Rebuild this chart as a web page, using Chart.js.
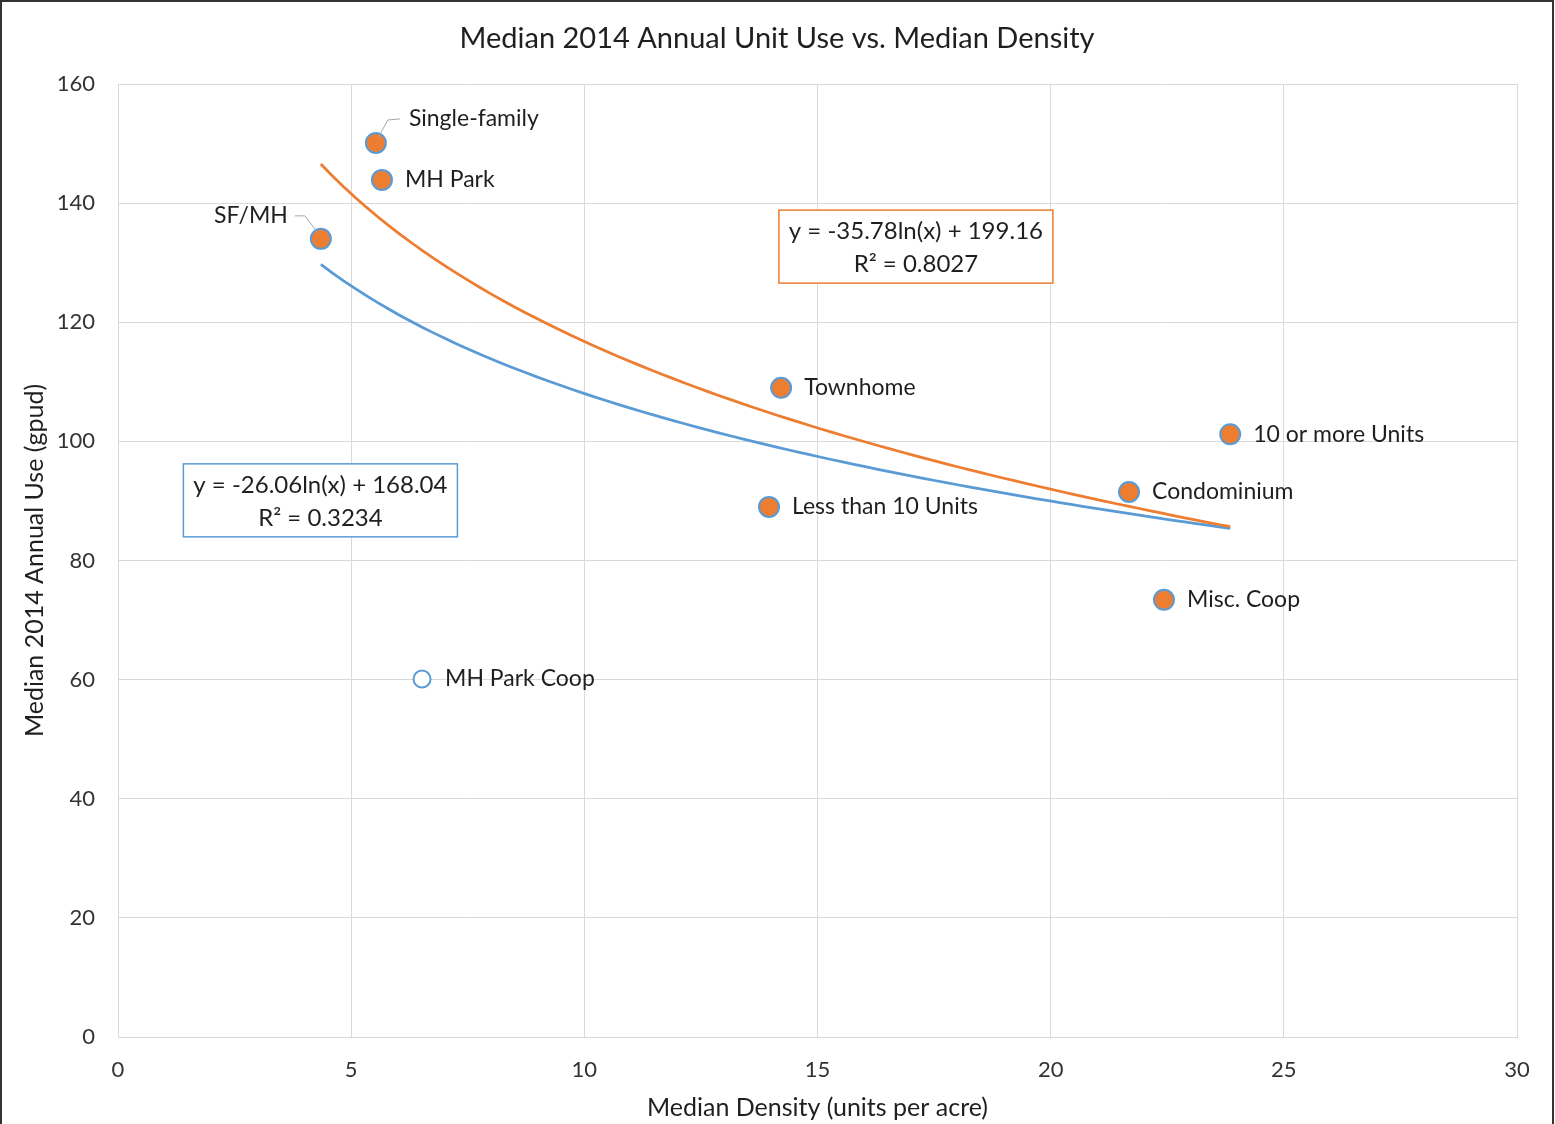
<!DOCTYPE html>
<html>
<head>
<meta charset="utf-8">
<script src="https://cdn.jsdelivr.net/npm/chart.js@4.4.0/dist/chart.umd.min.js"></script>
<style>
  html, body { margin: 0; padding: 0; background: #fff; }
  #wrap { width: 1555px; height: 1124px; position: relative; }
</style>
</head>
<body>
<div id="wrap"><canvas id="chart"></canvas></div>
<script>
// Building types with median density (units per acre) and median 2014 use (gpud)
var categories = ['Single-family', 'MH Park', 'SF/MH', 'Townhome', '10 or more Units', 'Condominium', 'Less than 10 Units', 'Misc. Coop'];
var density = [5.53, 5.66, 4.35, 14.22, 23.85, 21.68, 13.96, 22.43];
var unitUse = [150.1, 143.9, 134.0, 109.0, 101.2, 91.5, 89.0, 73.4];

// the outlier, drawn hollow
var outlierName = ['MH Park Coop'];
var outlierDensity = [6.52];
var outlierUse = [60.1];

// log trendlines as shown on the chart: y = a*ln(x) + b
var orangeFit = [-35.78, 199.16];
var orangeR2 = ['0.8027'];
var blueFit = [-26.06, 168.04];
var blueR2 = ['0.3234'];

var xTicks = [0, 5, 10, 15, 20, 25, 30];
var yTicks = [0, 20, 40, 60, 80, 100, 120, 140, 160];

var FONT = 'Lato, "Open Sans", sans-serif';
var ORANGE = '#ED7D31';
var BLUE = '#5B9BD5';
var TEXT = '#1f1f1f';

function toPoints(xs, ys) {
  var pts = [];
  for (var i = 0; i < xs.length; i++) pts.push({ x: xs[i], y: ys[i] });
  return pts;
}

// trendline over the range of the data
function trend(fit) {
  var all = density.concat(outlierDensity);
  var lo = Math.min.apply(null, all), hi = Math.max.apply(null, all);
  var pts = [];
  for (var i = 0; i <= 80; i++) {
    var x = lo + (hi - lo) * i / 80;
    pts.push({ x: x, y: fit[0] * Math.log(x) + fit[1] });
  }
  return pts;
}

function fmtFit(fit) {
  return 'y = ' + fit[0].toFixed(2) + 'ln(x) + ' + fit[1].toFixed(2);
}

// labels next to the points, with leader lines for two of them
var labelPlugin = {
  id: 'labels',
  afterDatasetsDraw: function(chart) {
    var ctx = chart.ctx;
    ctx.save();
    ctx.font = '23px ' + FONT;
    ctx.fillStyle = TEXT;
    ctx.textBaseline = 'middle';

    var meta = chart.getDatasetMeta(0);
    meta.data.forEach(function(pt, i) {
      var name = categories[i];
      if (name === 'Single-family') {
        ctx.strokeStyle = '#a6a6a6';
        ctx.lineWidth = 1;
        ctx.beginPath();
        ctx.moveTo(pt.x + 2, pt.y - 5);
        ctx.lineTo(pt.x + 12, pt.y - 23);
        ctx.lineTo(pt.x + 24, pt.y - 24);
        ctx.stroke();
        ctx.textAlign = 'left';
        ctx.fillText(name, pt.x + 33, pt.y - 24);
      } else if (name === 'SF/MH') {
        ctx.strokeStyle = '#a6a6a6';
        ctx.lineWidth = 1;
        ctx.beginPath();
        ctx.moveTo(pt.x - 3, pt.y - 6);
        ctx.lineTo(pt.x - 16, pt.y - 23);
        ctx.lineTo(pt.x - 26, pt.y - 23);
        ctx.stroke();
        ctx.textAlign = 'right';
        ctx.fillText(name, pt.x - 33, pt.y - 23);
      } else {
        ctx.textAlign = 'left';
        ctx.fillText(name, pt.x + 23, pt.y);
      }
    });

    var meta2 = chart.getDatasetMeta(1);
    meta2.data.forEach(function(pt, i) {
      ctx.textAlign = 'left';
      ctx.fillText(outlierName[i], pt.x + 23, pt.y);
    });
    ctx.restore();
  },
  afterDraw: function(chart) {
    var ctx = chart.ctx;
    var xs = chart.scales.x, ys = chart.scales.y;
    ctx.save();

    // equation boxes
    function box(cx, cy, color, fit, r2) {
      var px = xs.getPixelForValue(cx), py = ys.getPixelForValue(cy);
      var w = 274, h = 73;
      ctx.fillStyle = '#fff';
      ctx.fillRect(px - w / 2, py - h / 2, w, h);
      ctx.strokeStyle = color;
      ctx.lineWidth = 1.5;
      ctx.strokeRect(px - w / 2, py - h / 2, w, h);
      ctx.fillStyle = TEXT;
      ctx.font = '24px ' + FONT;
      ctx.textAlign = 'center';
      ctx.textBaseline = 'middle';
      ctx.fillText(fmtFit(fit), px, py - 15);
      ctx.fillText('R\u00B2 = ' + r2, px, py + 18);
    }
    box(17.11, 132.7, ORANGE, orangeFit, orangeR2[0]);
    box(4.34, 90.1, BLUE, blueFit, blueR2[0]);

    // chart title
    ctx.fillStyle = TEXT;
    ctx.font = '29px ' + FONT;
    ctx.textAlign = 'center';
    ctx.textBaseline = 'middle';
    ctx.fillText('Median 2014 Annual Unit Use vs. Median Density', 777, 39);

    // outer frame
    ctx.strokeStyle = '#333';
    ctx.lineWidth = 2;
    ctx.beginPath();
    ctx.moveTo(1, chart.height);
    ctx.lineTo(1, 1);
    ctx.lineTo(1553, 1);
    ctx.lineTo(1553, chart.height);
    ctx.stroke();
    ctx.restore();
  }
};

var ctx = document.getElementById('chart');
var myChart = new Chart(ctx, {
  type: 'scatter',
  data: {
    datasets: [{
      label: 'Building types',
      data: toPoints(density, unitUse),
      backgroundColor: ORANGE,
      borderColor: BLUE,
      borderWidth: 2,
      pointRadius: 10,
      order: 0
    }, {
      label: 'MH Park Coop',
      data: toPoints(outlierDensity, outlierUse),
      backgroundColor: '#fff',
      borderColor: BLUE,
      borderWidth: 2,
      pointRadius: 8.5,
      order: 0
    }, {
      label: 'Log trend (excl. coop)',
      type: 'line',
      data: trend(orangeFit),
      borderColor: ORANGE,
      borderWidth: 2.75,
      pointRadius: 0,
      fill: false,
      order: 1
    }, {
      label: 'Log trend (all)',
      type: 'line',
      data: trend(blueFit),
      borderColor: BLUE,
      borderWidth: 2.75,
      pointRadius: 0,
      fill: false,
      order: 2
    }]
  },
  options: {
    responsive: true,
    maintainAspectRatio: false,
    animation: false,
    layout: { padding: { top: 84, right: 38, left: 0, bottom: 0 } },
    plugins: {
      legend: { display: false },
      tooltip: { enabled: false },
      title: { display: false }
    },
    scales: {
      x: {
        type: 'linear',
        min: 0, max: 30,
        afterFit: function(s) { s.height = 87; },
        afterBuildTicks: function(s) { s.ticks = xTicks.map(function(v) { return { value: v }; }); },
        grid: { color: '#d9d9d9', lineWidth: 1, drawTicks: false },
        border: { color: '#d9d9d9' },
        ticks: { padding: 20, color: '#333', font: { family: FONT, size: 22 } },
        title: {
          display: true,
          text: 'Median Density (units per acre)',
          color: TEXT,
          font: { family: FONT, size: 25 },
          padding: { top: 0, bottom: 1 }
        }
      },
      y: {
        type: 'linear',
        min: 0, max: 160,
        afterFit: function(s) { s.width = 118; },
        afterBuildTicks: function(s) { s.ticks = yTicks.map(function(v) { return { value: v }; }); },
        grid: { color: '#d9d9d9', lineWidth: 1, drawTicks: false },
        border: { color: '#d9d9d9' },
        ticks: { padding: 23, color: '#333', font: { family: FONT, size: 22 } },
        title: {
          display: true,
          text: 'Median 2014 Annual Use (gpud)',
          color: TEXT,
          font: { family: FONT, size: 25 },
          padding: { top: 20, bottom: 0 }
        }
      }
    }
  },
  plugins: [labelPlugin]
});
</script>
</body>
</html>
